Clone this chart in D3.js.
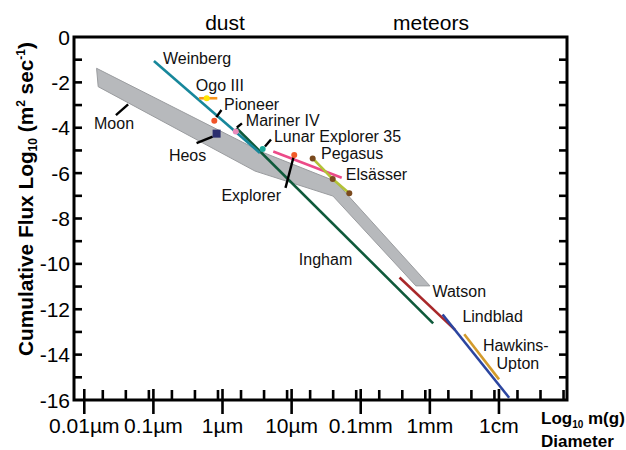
<!DOCTYPE html>
<html>
<head>
<meta charset="utf-8">
<script src="https://cdn.jsdelivr.net/npm/d3@7"></script>
<style>
  html, body { margin: 0; padding: 0; background: #fff; }
  svg { display: block; font-family: "Liberation Sans", Arial, sans-serif; }
</style>
</head>
<body>
<svg id="chart" width="626" height="450"></svg>
<script>
// ---- data: x = log10 mass (g), y = log10 cumulative flux (m^-2 s^-1) ----
const moonUpper = [[-17.27, -1.38], [-10.09, -5.07], [-6.92, -6.35], [-2.80, -10.97]];
const moonLower = [[-17.20, -2.19], [-10.39, -5.91], [-7.01, -7.01], [-3.41, -10.97]];

const weinberg     = [[-14.78, -1.06], [-10.18, -5.11]];
const ingham       = [[-11.20, -4.01], [-2.66, -12.62]];
const watson       = [[-4.12, -10.60], [-1.71, -12.91]];
const lindblad     = [[-2.25, -12.23], [0.64, -15.90]];
const hawkinsUpton = [[-1.31, -13.10], [0.20, -15.09]];
const explorerLine = [[-9.60, -5.05], [-6.63, -6.20]];
const pegasus      = [[-7.89, -5.35], [-7.02, -6.26], [-6.30, -6.89]];
const ogoIII       = [[-12.82, -2.70], [-12.03, -2.70]];

const ogoDot       = [-12.49, -2.70];
const pioneer      = [-12.16, -3.69];
const marinerIV    = [-11.23, -4.17];
const heos         = [-12.06, -4.26];
const lunarExp35   = [-10.06, -4.94];
const explorerDot  = [-8.69, -5.20];

const yTicks = d3.range(0, -17, -1);
const yTickLabels = [0, -2, -4, -6, -8, -10, -12, -14, -16];
const massTicks = d3.range(-17, 4, 1);
const diameterLabels = ["0.01\u00b5m", "0.1\u00b5m", "1\u00b5m", "10\u00b5m", "0.1mm", "1mm", "1cm"];
const diameterCm = [1e-6, 1e-5, 1e-4, 1e-3, 1e-2, 1e-1, 1];
const density = 3.0; // g/cm^3, converts diameter to mass

// text labels and leader lines, anchored in data coordinates
const labels = [
  { text: "Weinberg", at: [-14.39, -1.19] },
  { text: "Ogo III", at: [-12.96, -2.40] },
  { text: "Pioneer", at: [-11.74, -3.22] },
  { text: "Mariner IV", at: [-10.79, -3.92] },
  { text: "Lunar Explorer 35", at: [-9.57, -4.65] },
  { text: "Pegasus", at: [-7.53, -5.38] },
  { text: "Els\u00e4sser", at: [-6.45, -6.30] },
  { text: "Explorer", at: [-11.85, -7.23] },
  { text: "Heos", at: [-14.13, -5.46] },
  { text: "Moon", at: [-17.38, -4.05] },
  { text: "Ingham", at: [-8.49, -10.05] },
  { text: "Watson", at: [-2.69, -11.44] },
  { text: "Lindblad", at: [-1.39, -12.56] },
  { text: "Hawkins-", at: [-0.50, -13.82] },
  { text: "Upton", at: [0.09, -14.63] }
];
const leaders = [
  [[-16.43, -3.44], [-15.90, -2.97]],
  [[-12.93, -4.68], [-12.23, -4.39]],
  [[-12.07, -3.53], [-11.85, -3.22]],
  [[-11.18, -3.99], [-10.96, -3.81]],
  [[-9.96, -4.83], [-9.70, -4.52]],
  [[-8.72, -5.29], [-9.07, -6.65]]
];

// ---- layout ----
const svg = d3.select("#chart");
const frame = { left: 74, right: 567, top: 37, bottom: 400 };
const x = d3.scaleLinear().domain([-18.25, 3.15]).range([frame.left, frame.right]);
const y = d3.scaleLinear().domain([0, -16]).range([frame.top, frame.bottom]);
const line = d3.line().x(d => x(d[0])).y(d => y(d[1]));

// Moon band
svg.append("path")
  .attr("d", line(moonUpper.concat(moonLower.slice().reverse())) + "Z")
  .attr("fill", "#b7b9bc").attr("stroke", "#9a9c9f").attr("stroke-width", 1);

// flux model lines
const series = [
  { d: ingham, c: "#0f5a3b" },
  { d: weinberg, c: "#17879b" },
  { d: watson, c: "#a8282a" },
  { d: lindblad, c: "#2b45a0" },
  { d: hawkinsUpton, c: "#d39b2c" },
  { d: explorerLine, c: "#ec4a88" },
  { d: pegasus, c: "#b2c238" },
  { d: ogoIII, c: "#f7941d" }
];
svg.selectAll("path.series").data(series).join("path")
  .attr("class", "series")
  .attr("d", s => line(s.d))
  .attr("fill", "none").attr("stroke", s => s.c).attr("stroke-width", 2.6);

// leader lines
svg.selectAll("path.leader").data(leaders).join("path")
  .attr("class", "leader").attr("d", d => line(d))
  .attr("stroke", "#000").attr("stroke-width", 2.4).attr("fill", "none");

// measurement points
const dots = [
  { p: ogoDot, c: "#ffe600" },
  { p: pioneer, c: "#f0542a" },
  { p: marinerIV, c: "#e98bbb" },
  { p: lunarExp35, c: "#1aa99a" },
  { p: explorerDot, c: "#f15a29" },
  { p: pegasus[0], c: "#7a4a1e" },
  { p: pegasus[1], c: "#7a4a1e" },
  { p: pegasus[2], c: "#7a4a1e" }
];
svg.selectAll("circle.pt").data(dots).join("circle")
  .attr("class", "pt").attr("cx", d => x(d.p[0])).attr("cy", d => y(d.p[1]))
  .attr("r", 3).attr("fill", d => d.c);

svg.append("rect")
  .attr("x", x(heos[0]) - 4).attr("y", y(heos[1]) - 4)
  .attr("width", 8).attr("height", 8).attr("fill", "#2b2e6e");

// labels
svg.selectAll("text.lab").data(labels).join("text")
  .attr("class", "lab").attr("x", d => x(d.at[0])).attr("y", d => y(d.at[1]))
  .attr("font-size", 16).attr("fill", "#111").text(d => d.text);

// ---- axes ----
const axisG = svg.append("g").attr("stroke", "#000").attr("stroke-width", 2.6);
axisG.append("path")
  .attr("d", `M${frame.left},${frame.top}H${frame.right}V${frame.bottom}H${frame.left}Z`)
  .attr("fill", "none").attr("stroke-width", 3);

// y ticks, inward on both sides
yTicks.slice(1, -1).forEach(v => {
  axisG.append("line").attr("x1", frame.left).attr("x2", frame.left + 8).attr("y1", y(v)).attr("y2", y(v));
  axisG.append("line").attr("x1", frame.right).attr("x2", frame.right - 8).attr("y1", y(v)).attr("y2", y(v));
});
svg.selectAll("text.ytl").data(yTickLabels).join("text")
  .attr("class", "ytl").attr("x", 70).attr("y", d => y(d)).attr("dy", "0.36em")
  .attr("text-anchor", "end").attr("font-size", 21).text(d => d === 0 ? "0" : "-" + Math.abs(d));

// mass ticks (short, inward)
massTicks.forEach(m => {
  axisG.append("line").attr("x1", x(m)).attr("x2", x(m)).attr("y1", frame.bottom).attr("y2", frame.bottom - 10);
});
// diameter ticks (long, crossing the axis)
const massOf = d => Math.log10(density * Math.PI / 6 * Math.pow(d, 3));
diameterCm.forEach((d, i) => {
  const px = x(massOf(d));
  axisG.append("line").attr("x1", px).attr("x2", px).attr("y1", frame.bottom - 11).attr("y2", frame.bottom + 14);
  svg.append("text").attr("x", px).attr("y", 433).attr("text-anchor", "middle")
    .attr("font-size", 21).text(diameterLabels[i]);
});

// axis titles
const yt = svg.append("text")
  .attr("transform", "translate(33,199) rotate(-90)")
  .attr("text-anchor", "middle").attr("font-size", 20.8).attr("font-weight", "bold");
yt.append("tspan").text("Cumulative Flux Log");
yt.append("tspan").attr("font-size", 12).attr("dy", 4).text("10");
yt.append("tspan").attr("dy", -4).text(" (m");
yt.append("tspan").attr("font-size", 12).attr("dy", -8).text("2");
yt.append("tspan").attr("dy", 8).text(" sec");
yt.append("tspan").attr("font-size", 12).attr("dy", -8).text("-1");
yt.append("tspan").attr("dy", 8).text(")");

const xt = svg.append("text").attr("x", 541).attr("y", 424)
  .attr("font-size", 17).attr("font-weight", "bold");
xt.append("tspan").text("Log");
xt.append("tspan").attr("font-size", 10).attr("dy", 4).text("10");
xt.append("tspan").attr("dy", -4).text(" m(g)");
svg.append("text").attr("x", 541).attr("y", 447)
  .attr("font-size", 17).attr("font-weight", "bold").text("Diameter");

svg.append("text").attr("x", 225).attr("y", 30).attr("text-anchor", "middle")
  .attr("font-size", 21).text("dust");
svg.append("text").attr("x", 431).attr("y", 30).attr("text-anchor", "middle")
  .attr("font-size", 21).text("meteors");
</script>
</body>
</html>
